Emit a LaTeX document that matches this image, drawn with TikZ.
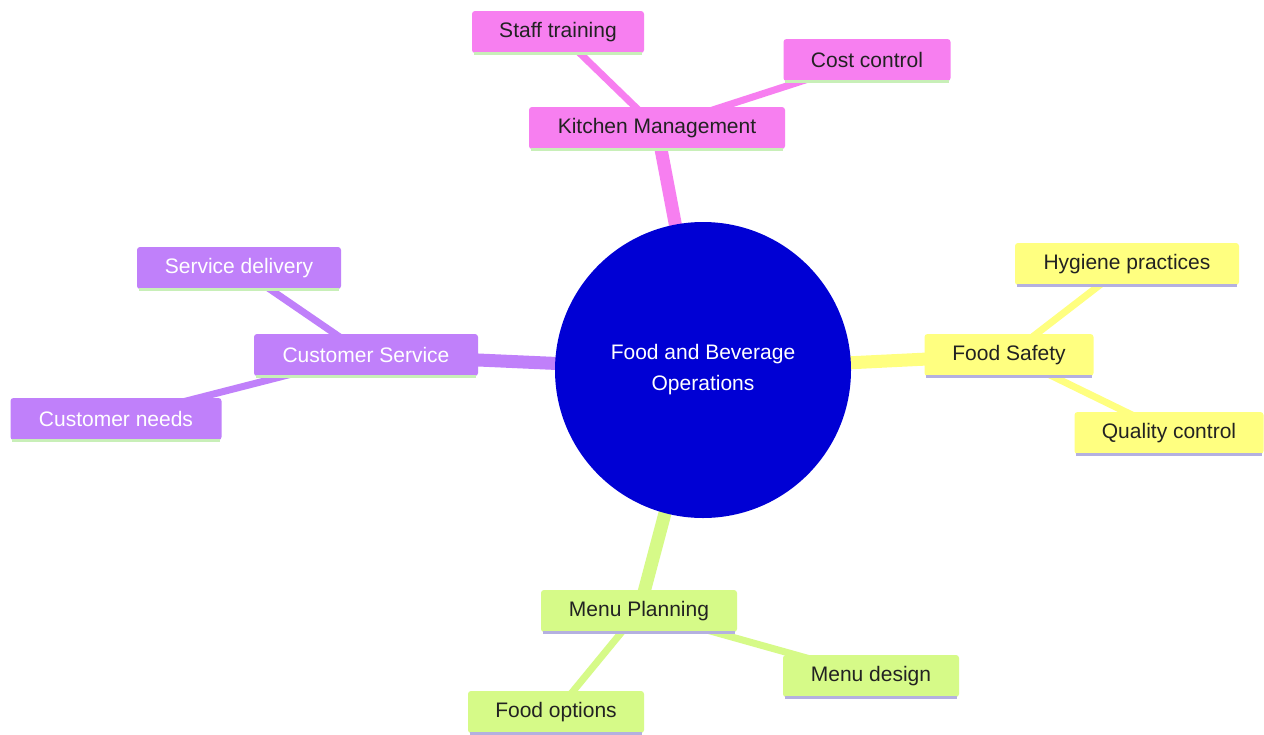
\documentclass[tikz,border=0pt]{standalone}
\usepackage{fontspec}
\setmainfont{Liberation Sans}
\pgfdeclarelayer{background}
\pgfsetlayers{background,main}
\definecolor{cblue}{HTML}{0000D4}
\definecolor{cpink}{HTML}{F77FF0}
\definecolor{cpurple}{HTML}{C080FA}
\definecolor{cyellow}{HTML}{FFFF80}
\definecolor{clime}{HTML}{D6FA88}
\definecolor{lgreen}{HTML}{C8EFB8}
\definecolor{lav}{HTML}{B4B0E0}
\definecolor{dtext}{HTML}{222222}
\tikzset{
  x=1pt, y=-1pt,
  box/.style={rectangle, rounded corners=3pt, minimum height=42pt, inner sep=0pt,
    font=\fontsize{21}{25}\selectfont},
  pinkbox/.style={box, fill=cpink, text=dtext},
  purplebox/.style={box, fill=cpurple, text=white},
  yellowbox/.style={box, fill=cyellow, text=dtext},
  limebox/.style={box, fill=clime, text=dtext},
  trunk/.style={line width=13pt},
  twig/.style={line width=7pt},
  baseline green/.style={draw=lgreen, line width=3pt},
  baseline lav/.style={draw=lav, line width=3pt},
}
\begin{document}
\begin{tikzpicture}
\useasboundingbox (0,0) rectangle (1264,734);

\node[circle, fill=cblue, minimum size=296pt, inner sep=0pt, text=white,
      align=center, font=\fontsize{21}{31}\selectfont] (root) at (703,370)
      {Food and Beverage\\Operations};

\node[pinkbox, minimum width=256pt] (km) at (657,128) {Kitchen Management};
\node[pinkbox, minimum width=172pt] (st) at (558,32) {Staff training};
\node[pinkbox, minimum width=167pt] (cc) at (867,60) {Cost control};

\node[purplebox, minimum width=224pt] (cs) at (366,355) {Customer Service};
\node[purplebox, minimum width=204pt] (sd) at (239,268) {Service delivery};
\node[purplebox, minimum width=211pt] (cn) at (116,419) {Customer needs};

\node[yellowbox, minimum width=169pt] (fs) at (1009,355) {Food Safety};
\node[yellowbox, minimum width=224pt] (hp) at (1127,264) {Hygiene practices};
\node[yellowbox, minimum width=189pt] (qc) at (1169,433) {Quality control};

\node[limebox, minimum width=196pt] (mp) at (639,611) {Menu Planning};
\node[limebox, minimum width=176pt] (md) at (871,676) {Menu design};
\node[limebox, minimum width=176pt] (fo) at (556,712) {Food options};

\foreach \n in {km,st,cc,cs,sd,cn}
  \draw[baseline green] ([xshift=2pt]\n.south west) -- ([xshift=-2pt]\n.south east);
\foreach \n in {fs,hp,qc,mp,md,fo}
  \draw[baseline lav] ([xshift=2pt]\n.south west) -- ([xshift=-2pt]\n.south east);

\begin{pgfonlayer}{background}
\fill[white] (0,0) rectangle (1264,734);
\draw[trunk, cpink] (root.center) -- (km.center);
\draw[twig, cpink] (km.center) -- (st.center);
\draw[twig, cpink] (km.center) -- (cc.center);
\draw[trunk, cpurple] (root.center) -- (cs.center);
\draw[twig, cpurple] (cs.center) -- (sd.center);
\draw[twig, cpurple] (cs.center) -- (cn.center);
\draw[trunk, cyellow] (root.center) -- (fs.center);
\draw[twig, cyellow] (fs.center) -- (hp.center);
\draw[twig, cyellow] (fs.center) -- (qc.center);
\draw[trunk, clime] (root.center) -- (mp.center);
\draw[twig, clime] (mp.center) -- (md.center);
\draw[twig, clime] (mp.center) -- (fo.center);
\end{pgfonlayer}
\end{tikzpicture}
\end{document}
